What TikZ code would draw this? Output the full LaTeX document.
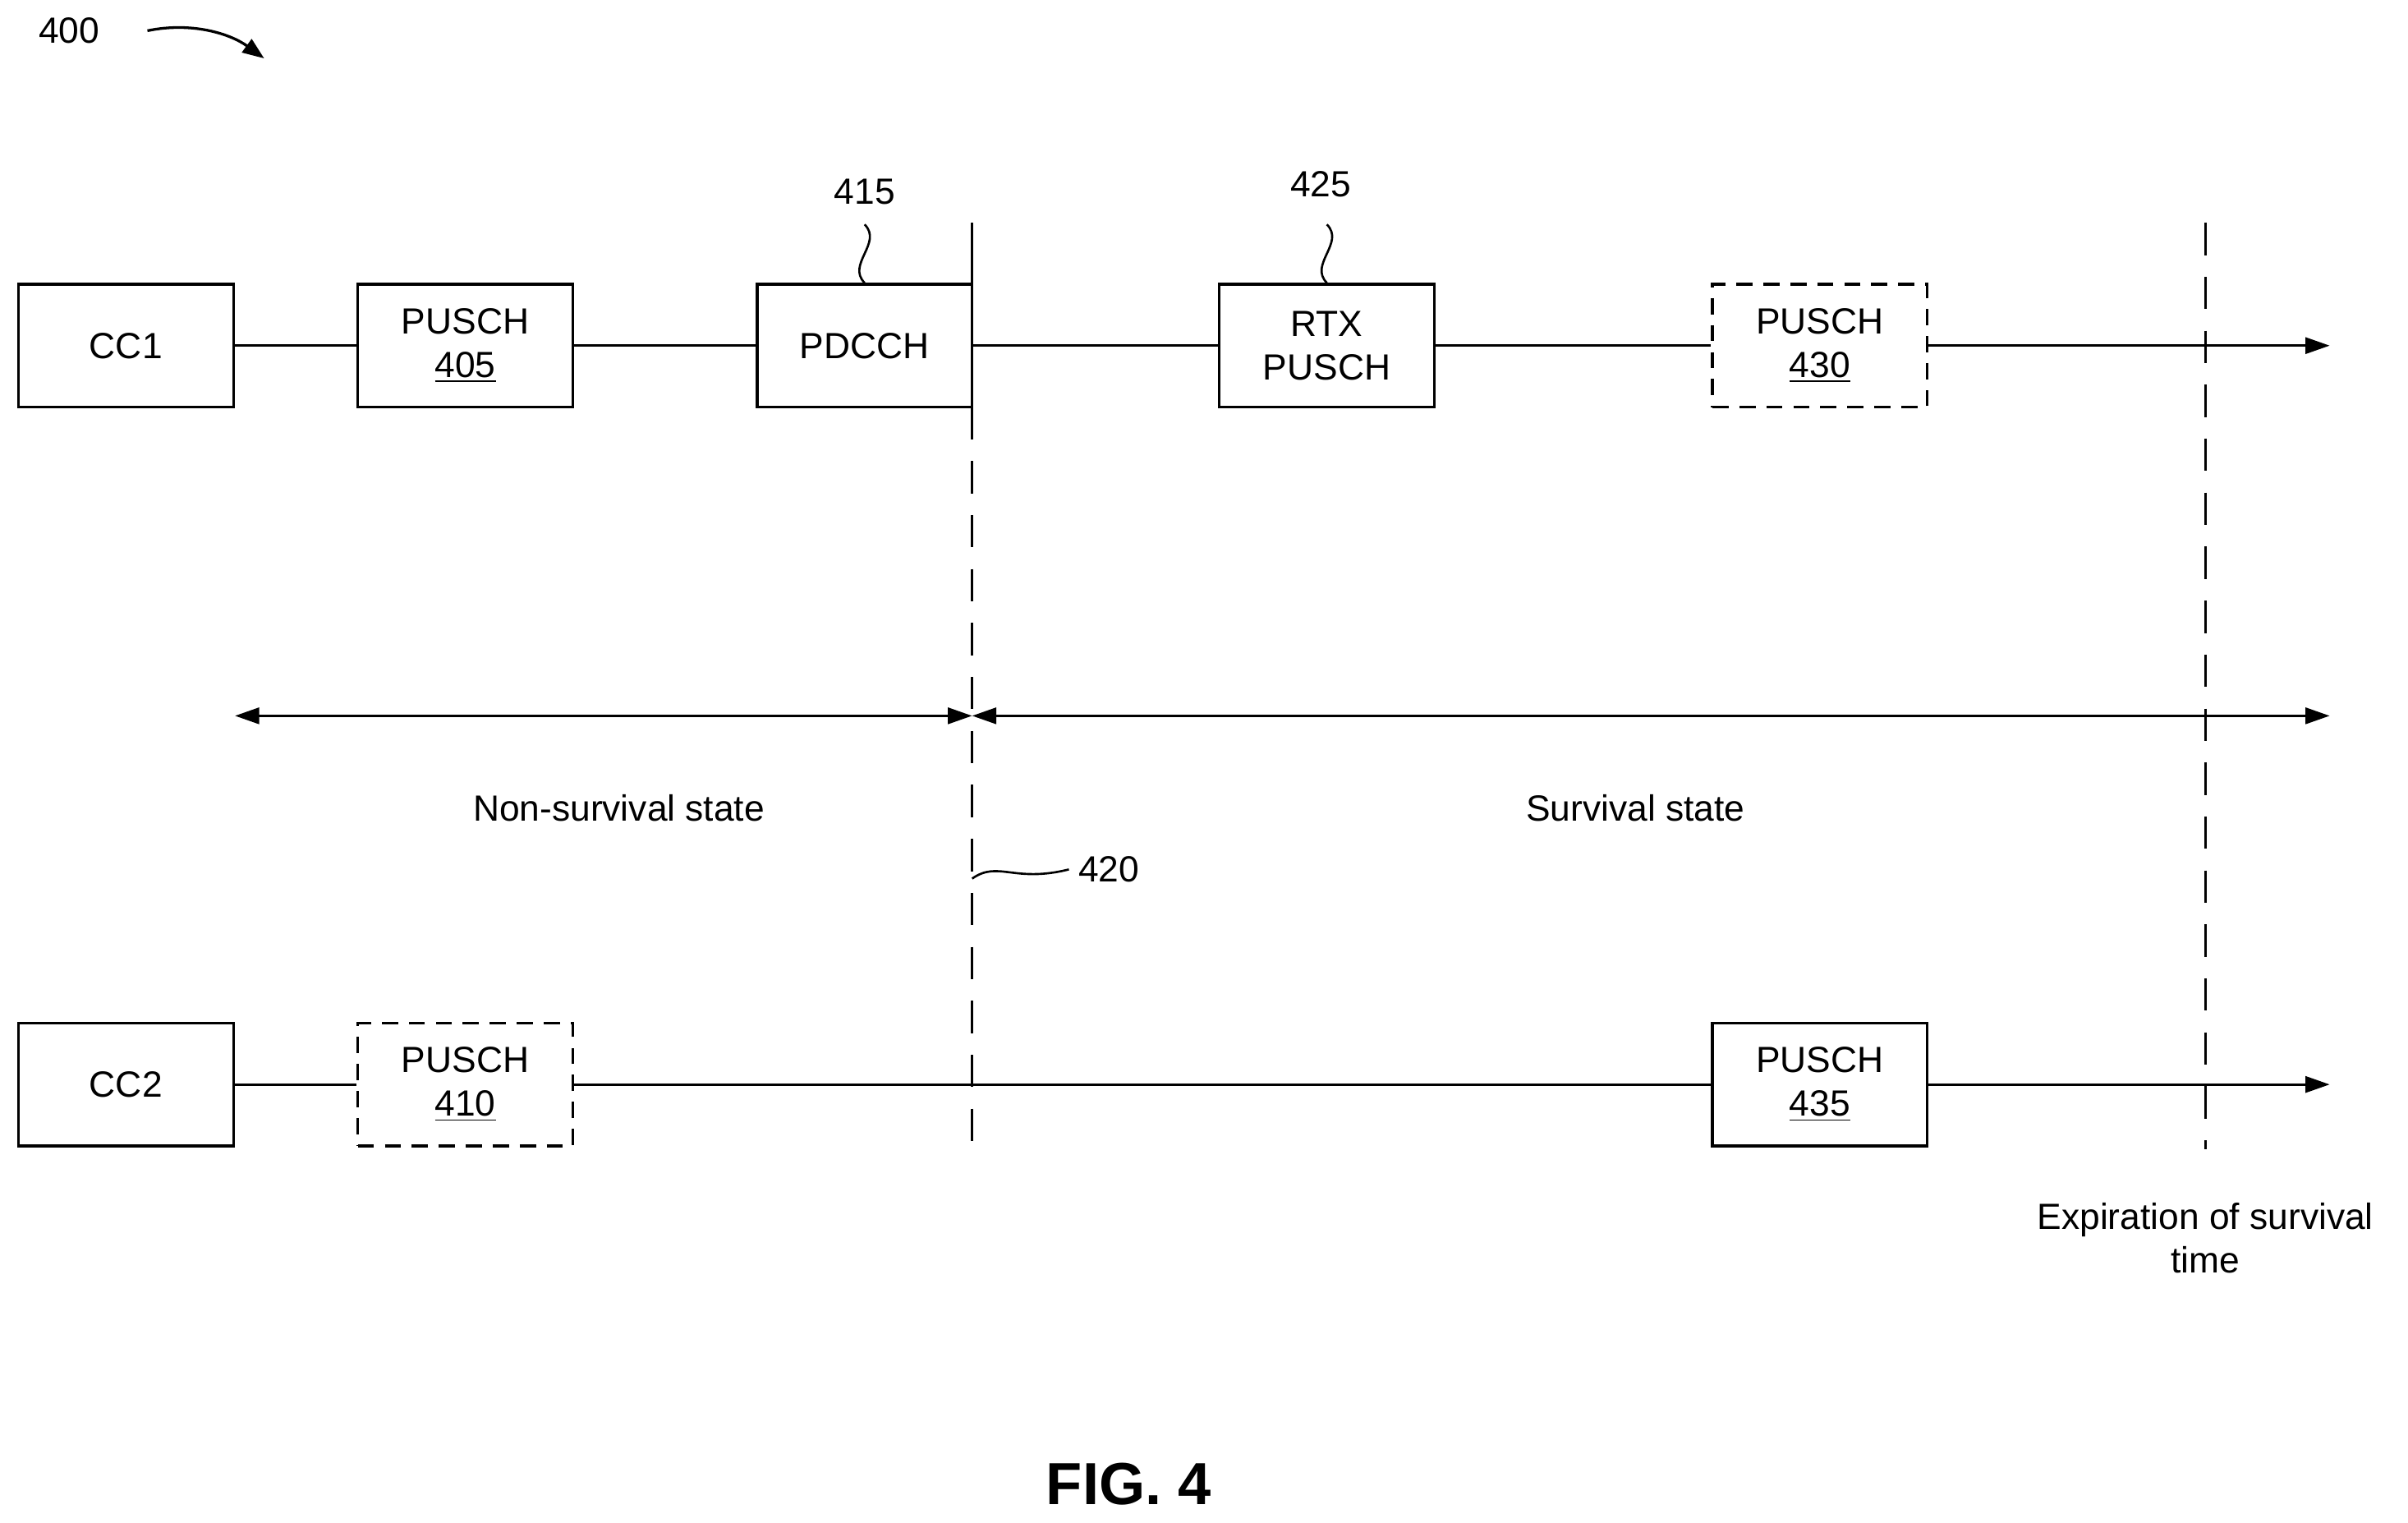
\documentclass[tikz,border=0pt]{standalone}
\usepackage{fontspec}
\setmainfont{Liberation Sans}
\usetikzlibrary{positioning, arrows.meta}
\begin{document}
\begin{tikzpicture}[
x=0.02cm, y=-0.02cm,
>={Triangle[length=9pt,width=6pt]},
font=\fontsize{13.5}{16}\selectfont,
box/.style={rectangle, draw, line width=1pt, minimum width=2.8cm, minimum height=1.6cm, align=center, inner sep=0pt},
dbox/.style={box, dashed, dash pattern=on 6pt off 4pt},
line/.style={draw, line width=1pt},
vdash/.style={draw, line width=1pt, dash pattern=on 12pt off 8pt}
]
  \useasboundingbox (0,0) rectangle (1568,991);
  % Labels
  \node (l400) at (45,20) {400};
  \node (l415) at (563,125) {415};
  \node (l425) at (860,120) {425};
  \node (l420) at (722,566) {420};
  \node (nonsurv) at (403,526) {Non-survival state};
  \node (surv) at (1065,526) {Survival state};
  \node[align=center] (expire) at (1436,806) {Expiration of survival\\time};
  \node[font=\fontsize{22}{26}\selectfont\bfseries] (fig) at (735,966) {FIG. 4};

  % CC1 row
  \node [box] (cc1) at (82,225) {CC1};
  \node [box] (p405) at (303,225) {PUSCH\\\underline{405}};
  \node [box] (pdcch) at (563,225) {PDCCH};
  \node [box] (rtx) at (864,225) {RTX\\PUSCH};
  \node [dbox] (p430) at (1185,225) {PUSCH\\\underline{430}};
  \coordinate (end1) at (1517,225);

  % CC2 row
  \node [box] (cc2) at (82,706) {CC2};
  \node [dbox] (p410) at (303,706) {PUSCH\\\underline{410}};
  \node [box] (p435) at (1185,706) {PUSCH\\\underline{435}};
  \coordinate (end2) at (1517,706);

  % Time markers
  \coordinate (t1top) at (633,145);
  \coordinate (t1mid) at (633,265);
  \coordinate (t1bot) at (633,748);
  \coordinate (t2top) at (1436,145);
  \coordinate (t2bot) at (1436,748);
  \coordinate (sl) at (153,466);
  \coordinate (sm) at (633,466);
  \coordinate (sr) at (1517,466);

  % Paths
  \path [line] (cc1) -- (p405);
  \path [line] (p405) -- (pdcch);
  \path [line] (pdcch) -- (rtx);
  \path [line] (rtx) -- (p430);
  \path [line, ->] (p430) -- (end1);
  \path [line] (cc2) -- (p410);
  \path [line] (p410) -- (p435);
  \path [line, ->] (p435) -- (end2);
  \path [line] (t1top) -- (t1mid);
  \path [vdash] (t1mid) -- (t1bot);
  \path [vdash] (t2top) -- (t2bot);
  \path [line, <->] (sl) -- (sm);
  \path [line, <->] (sm) -- (sr);

  % Squiggles
  \draw [line width=0.8pt] (pdcch.north) .. controls +(-12,-12) and +(12,12) .. ++(0,-38);
  \draw [line width=0.8pt] (rtx.north) .. controls +(-12,-12) and +(12,12) .. ++(0,-38);
  \draw [line width=0.8pt] (633,572) .. controls (650,560) and (660,575) .. (l420.west);
  \draw [line width=1pt, -{Triangle[length=8pt,width=6pt]}] (l400.east) ++(25,0) .. controls (125,14) and (150,22) .. (172,38);
\end{tikzpicture}
\end{document}
